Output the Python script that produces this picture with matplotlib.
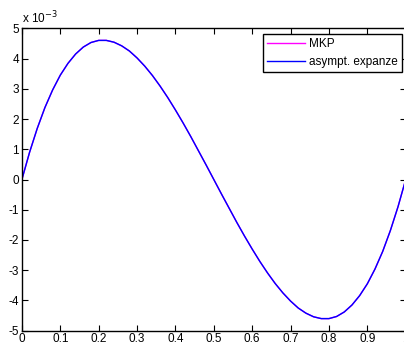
import matplotlib
matplotlib.use("Agg")
import matplotlib.pyplot as plt
from matplotlib.ticker import FuncFormatter

plt.rcParams['font.family'] = ['Liberation Sans', 'DejaVu Sans']

# x values and curve readings (units of 1e-3)
x = [0.0, 0.02, 0.04, 0.06, 0.08, 0.1, 0.12, 0.14, 0.16, 0.18,
     0.2, 0.22, 0.24, 0.26, 0.28, 0.3, 0.32, 0.34, 0.36, 0.38,
     0.4, 0.42, 0.44, 0.46, 0.48, 0.5, 0.52, 0.54, 0.56, 0.58,
     0.6, 0.62, 0.64, 0.66, 0.68, 0.7, 0.72, 0.74, 0.76, 0.78,
     0.8, 0.82, 0.84, 0.86, 0.88, 0.9, 0.92, 0.94, 0.96, 0.98, 1.0]
mkp = [0.0, 0.90, 1.69, 2.38, 2.96, 3.45, 3.84, 4.15, 4.38, 4.53,
       4.60, 4.60, 4.54, 4.42, 4.25, 4.02, 3.75, 3.44, 3.09, 2.71,
       2.30, 1.87, 1.42, 0.95, 0.48, 0.0, -0.48, -0.95, -1.42, -1.87,
       -2.30, -2.71, -3.09, -3.44, -3.75, -4.02, -4.25, -4.42, -4.54, -4.60,
       -4.60, -4.53, -4.38, -4.15, -3.84, -3.45, -2.96, -2.38, -1.69, -0.90, 0.0]
asympt = list(mkp)
mkp = [v * 1e-3 for v in mkp]
asympt = [v * 1e-3 for v in asympt]

xticks = [0, 0.1, 0.2, 0.3, 0.4, 0.5, 0.6, 0.7, 0.8, 0.9, 1.0]
yticks = [v * 1e-3 for v in range(-5, 6)]

fig = plt.figure(figsize=(4.04, 3.42), dpi=100)
ax = fig.add_axes([21.9 / 404, 1 - 330.7 / 342, 383.8 / 404, 302.4 / 342])

ax.plot(x, mkp, color='#ff00ff', lw=1.0, label='MKP')
ax.plot(x, asympt, color='#0000ff', lw=1.0, label='asympt. expanze')

ax.set_xlim(0, 1)
ax.set_ylim(-5e-3, 5e-3)
ax.set_xticks(xticks)
ax.set_yticks(yticks)
ax.xaxis.set_major_formatter(FuncFormatter(lambda v, p: '%g' % round(v, 2)))
ax.yaxis.set_major_formatter(FuncFormatter(lambda v, p: '%d' % round(v * 1e3)))
ax.tick_params(direction='in', length=4, width=0.8, labelsize=8.5,
               top=True, right=True, pad=2)
for s in ax.spines.values():
    s.set_linewidth(1.0)

fig.text(22 / 404, 1 - 23 / 342, 'x 10$^{-3}$', fontsize=8.5, ha='left', va='baseline')

leg = ax.legend(loc='upper right', bbox_to_anchor=(402 / 404, 1 - 34 / 342),
                bbox_transform=fig.transFigure, borderaxespad=0, fontsize=8.5,
                fancybox=False, framealpha=1, edgecolor='black',
                handlelength=3.2, handletextpad=0.35, labelspacing=0.5,
                borderpad=0.35)
leg.get_frame().set_linewidth(1.0)

fig.savefig('out.png', dpi=100)
